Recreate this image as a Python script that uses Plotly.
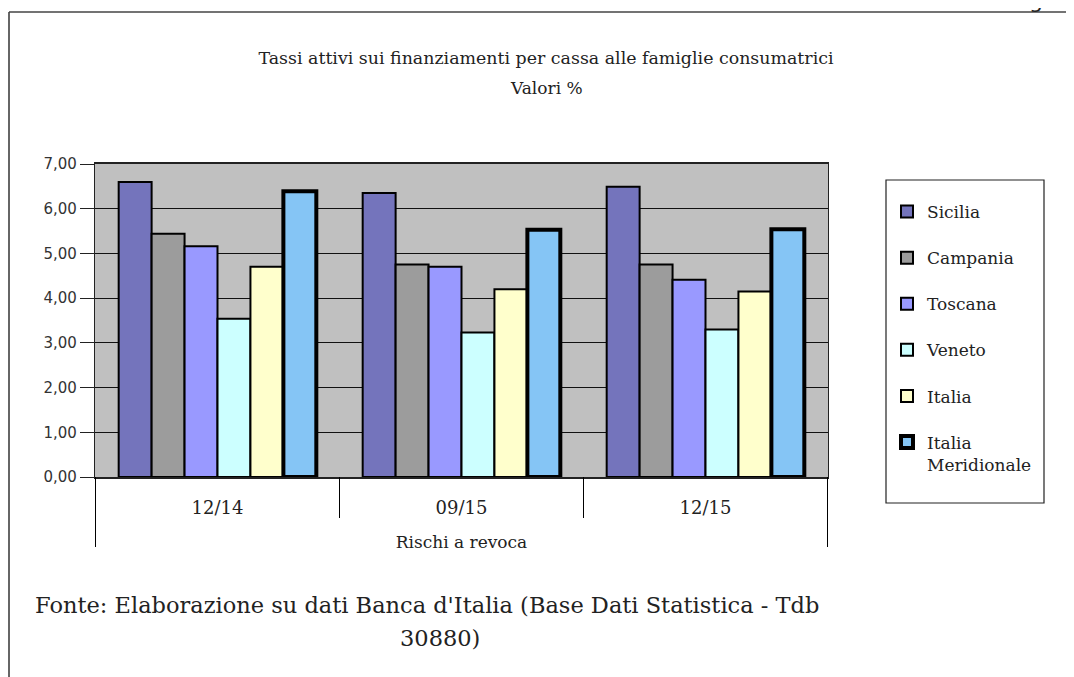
import plotly.graph_objects as go

categories = ["12/14", "09/15", "12/15"]
series_names = ["Sicilia", "Campania", "Toscana", "Veneto", "Italia", "Italia<br>Meridionale"]
sicilia = [6.60, 6.35, 6.49]
campania = [5.44, 4.75, 4.75]
toscana = [5.16, 4.70, 4.41]
veneto = [3.54, 3.23, 3.30]
italia = [4.70, 4.20, 4.15]
italia_meridionale = [6.39, 5.53, 5.54]
y_ticks = [0, 1, 2, 3, 4, 5, 6, 7]

values = [sicilia, campania, toscana, veneto, italia, italia_meridionale]
colors = ["#7474BC", "#9C9C9C", "#9999FF", "#CCFFFF", "#FFFFCC", "#85C5F5"]
line_widths = [2, 2, 2, 2, 2, 4]

# the page body adds an 8px offset; positions below are screen pixels
OFF = 8
W, H = 1074, 677
SL, SR, ST, SB = 95, 828, 164, 477          # plot area on screen
L, R, T, B = SL - OFF, SR - OFF, ST - OFF, SB - OFF
pw, ph = R - L, B - T

def px(sx):
    return (sx - OFF - L) / pw

def py(sy):
    return (B - (sy - OFF)) / ph

fig = go.Figure()
for i, (name, vals) in enumerate(zip(series_names, values)):
    fig.add_trace(go.Bar(
        x=categories, y=vals, name=name,
        legendgroup=f"g{i}",
        marker=dict(color=colors[i], line=dict(color="black", width=line_widths[i])),
    ))

serif = "DejaVu Serif"
shapes = []
for k, xv in enumerate([-0.5, 0.5, 1.5, 2.5]):
    outer = k in (0, 3)
    shapes.append(dict(type="line", xref="x", yref="paper", x0=xv, x1=xv,
                       y0=0, y1=py(547 if outer else 518),
                       line=dict(color="black", width=1)))
shapes.append(dict(type="rect", xref="paper", yref="paper",
                   x0=px(886), x1=px(1044), y0=py(503), y1=py(180),
                   line=dict(color="#222", width=1.2), fillcolor="rgba(0,0,0,0)"))
shapes.append(dict(type="line", xref="paper", yref="paper", x0=px(9), x1=px(9),
                   y0=py(12), y1=py(720), line=dict(color="#333", width=1.5)))
shapes.append(dict(type="line", xref="paper", yref="paper", x0=px(9), x1=px(1120),
                   y0=py(12), y1=py(12), line=dict(color="#444", width=1.5)))

annotations = [
    dict(text="Valori %", xref="paper", yref="paper", x=px(546), y=py(88),
         showarrow=False, font=dict(family=serif, size=17, color="#222"),
         xanchor="center", yanchor="middle"),
    dict(text="Fonte: Elaborazione su dati Banca d'Italia (Base Dati Statistica - Tdb",
         xref="paper", yref="paper", x=px(427), y=py(605), showarrow=False,
         font=dict(family=serif, size=22.5, color="#222"), xanchor="center", yanchor="middle"),
    dict(text="30880)", xref="paper", yref="paper", x=px(440), y=py(638), showarrow=False,
         font=dict(family=serif, size=22.5, color="#222"), xanchor="center", yanchor="middle"),
    dict(text="g", xref="paper", yref="paper", x=px(1036), y=py(-14), showarrow=False,
         font=dict(family="DejaVu Sans", size=22, color="#222"), xanchor="center", yanchor="top"),
]

fig.update_layout(
    width=W, height=H,
    margin=dict(l=L, r=W - R, t=T, b=H - B, autoexpand=False),
    paper_bgcolor="white",
    plot_bgcolor="#C0C0C0",
    separators=",.",
    barmode="group", bargap=0.19, bargroupgap=0,
    title=dict(text="Tassi attivi sui finanziamenti per cassa alle famiglie consumatrici",
               x=px(546), xref="paper", xanchor="center",
               y=1 - (58 - OFF) / H, yref="container", yanchor="middle",
               font=dict(family=serif, size=17.4, color="#222")),
    xaxis=dict(
        type="category", showgrid=False, ticks="", showline=True, linecolor="#222",
        linewidth=1.5, mirror=True, ticklabelstandoff=14,
        tickfont=dict(family=serif, size=18, color="#222"),
        title=dict(text="Rischi a revoca", standoff=19,
                   font=dict(family=serif, size=17, color="#222")),
    ),
    yaxis=dict(
        range=[0, 7], tickvals=y_ticks, tickformat=".2f",
        showgrid=True, gridcolor="#111", gridwidth=1,
        ticks="outside", ticklen=14, tickcolor="#222", tickwidth=1,
        showline=True, linecolor="#222", linewidth=1.2, mirror=True,
        zeroline=False,
        tickfont=dict(family="DejaVu Sans", size=15, color="#333"),
    ),
    legend=dict(
        x=px(887), y=py(194), xanchor="left", yanchor="top",
        bgcolor="rgba(0,0,0,0)", borderwidth=0,
        traceorder="grouped", tracegroupgap=21, valign="top",
        font=dict(family=serif, size=17, color="#222"),
    ),
    shapes=shapes,
    annotations=annotations,
)

fig.write_html("out.html")
